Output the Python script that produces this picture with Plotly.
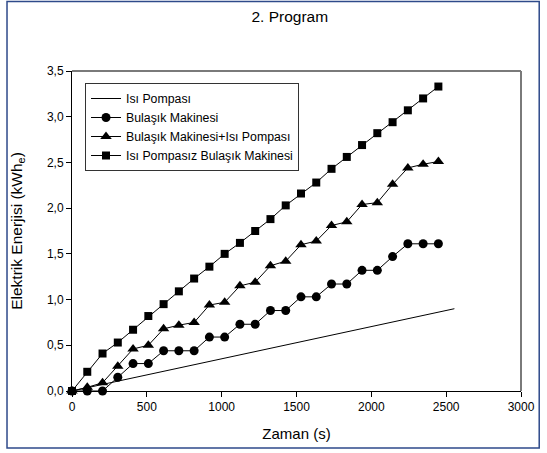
import plotly.graph_objects as go

# ---- data ----
time_s = [0, 102, 204, 306, 408, 510, 612, 714, 816, 918, 1020, 1122, 1224,
          1326, 1428, 1530, 1632, 1734, 1836, 1938, 2040, 2142, 2244, 2346, 2448]
bulasik = [0, 0, 0, 0.15, 0.30, 0.30, 0.44, 0.44, 0.44, 0.59, 0.59, 0.73, 0.73,
           0.88, 0.88, 1.03, 1.03, 1.17, 1.17, 1.32, 1.32, 1.47, 1.61, 1.61, 1.61]
bulasik_isi = [0, 0.04, 0.09, 0.27, 0.46, 0.50, 0.68, 0.72, 0.75, 0.94, 0.97, 1.15, 1.19,
               1.37, 1.42, 1.60, 1.64, 1.81, 1.85, 2.04, 2.06, 2.26, 2.44, 2.48, 2.51]
pompasiz = [0, 0.21, 0.41, 0.53, 0.67, 0.82, 0.95, 1.09, 1.23, 1.36, 1.50, 1.62, 1.75,
            1.88, 2.03, 2.16, 2.28, 2.43, 2.56, 2.69, 2.82, 2.94, 3.07, 3.20, 3.33]
isi_pompasi_t = [0, 2555]
isi_pompasi = [0, 0.90]

names = ["Isı Pompası", "Bulaşık Makinesi", "Bulaşık Makinesi+Isı Pompası",
         "Isı Pompasız Bulaşık Makinesi"]

FONT = "Arial, Liberation Sans, sans-serif"

fig = go.Figure()
fig.add_trace(go.Scatter(x=isi_pompasi_t, y=isi_pompasi, mode="lines", name=names[0],
                         line=dict(color="black", width=1), cliponaxis=False))
fig.add_trace(go.Scatter(x=time_s, y=bulasik, mode="lines+markers", name=names[1],
                         line=dict(color="black", width=1),
                         marker=dict(symbol="circle", size=9, color="black"),
                         cliponaxis=False))
fig.add_trace(go.Scatter(x=time_s, y=bulasik_isi, mode="lines+markers", name=names[2],
                         line=dict(color="black", width=1),
                         marker=dict(symbol="triangle-up", size=10, color="black"),
                         cliponaxis=False))
fig.add_trace(go.Scatter(x=time_s, y=pompasiz, mode="lines+markers", name=names[3],
                         line=dict(color="black", width=1),
                         marker=dict(symbol="square", size=8, color="black"),
                         cliponaxis=False))

fig.update_layout(
    width=547, height=453,
    margin=dict(l=72, r=19, t=71, b=62),
    paper_bgcolor="white", plot_bgcolor="white",
    font=dict(family=FONT, color="black", size=12),
    separators=",.",
    title=dict(text="2. Program", x=0.485, xref="paper", y=1 - 17 / 453,
               yref="container", xanchor="center", yanchor="middle",
               font=dict(size=15.5, family=FONT, color="black")),
    legend=dict(x=0.029, y=0.9625, xanchor="left", yanchor="top",
                bordercolor="#333333", borderwidth=1, bgcolor="white",
                font=dict(size=12.3, family=FONT, color="black"),
                itemwidth=30, tracegroupgap=0),
    showlegend=True,
)
fig.update_xaxes(range=[0, 3000], dtick=500, tick0=0, showgrid=False, zeroline=False,
                 showline=True, linecolor="black", linewidth=1,
                 ticks="outside", ticklen=5, tickcolor="black",
                 tickfont=dict(size=12, family=FONT),
                 title=dict(text="Zaman (s)", font=dict(size=15, family=FONT), standoff=15))
fig.update_yaxes(range=[0, 3.5], dtick=0.5, tick0=0, tickformat=".1f", showgrid=False,
                 zeroline=False, showline=True, linecolor="black", linewidth=1,
                 ticks="outside", ticklen=5, tickcolor="black",
                 tickfont=dict(size=12, family=FONT),
                 title=dict(text="Elektrik Enerjisi (kWh<sub>e</sub>)",
                            font=dict(size=15.5, family=FONT), standoff=20))

# grey top/right frame and blue outer border
fig.add_shape(type="line", xref="paper", yref="paper", x0=0, x1=1, y0=1, y1=1,
              line=dict(color="#7a7a7a", width=2))
fig.add_shape(type="line", xref="paper", yref="paper", x0=1, x1=1, y0=0, y1=1,
              line=dict(color="#7a7a7a", width=2))
fig.add_shape(type="rect", xref="paper", yref="paper",
              x0=(6 - 72) / 456, x1=(546.5 - 72) / 456,
              y0=(391 - 448) / 320, y1=(391 - 1.5) / 320,
              line=dict(color="#2e4a8a", width=1.5), layer="below")

fig.write_html("out.html")
